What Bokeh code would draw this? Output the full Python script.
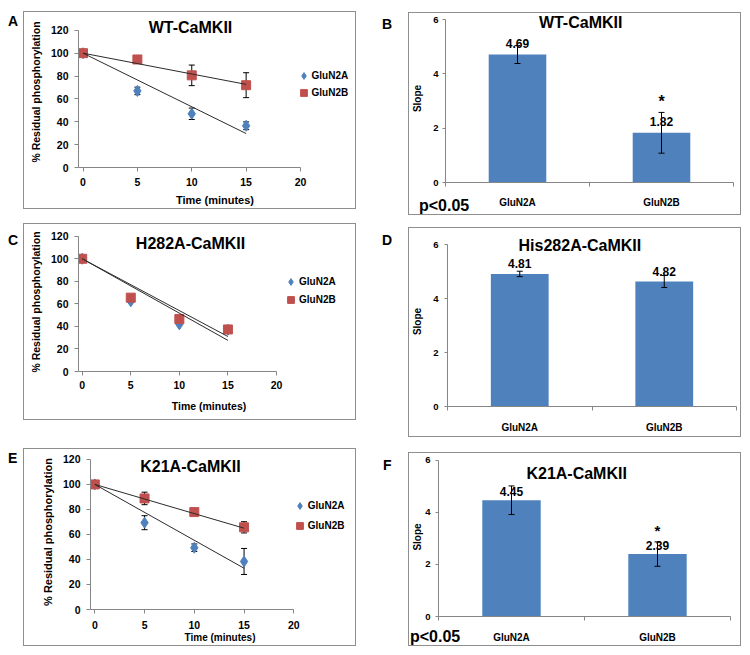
from bokeh.plotting import figure
from bokeh.models import (Range1d, FixedTicker, Whisker, TeeHead, Spacer,
                          ColumnDataSource, Label, Legend, LegendItem, Div)
from bokeh.layouts import row, column
from bokeh.embed import file_html
from bokeh.resources import INLINE
from bokeh.core.properties import value

FONT = "Liberation Sans"
BLUE = "#4F81BD"
RED = "#C0504D"
AXIS = "#868686"
BOX = "#8E8E8E"
FIT = "#2B2B2B"

# ---------------- data ----------------
series = ["GluN2A", "GluN2B"]
times = [0, 5, 10, 15]
fit_times = [0, 15]
time_ticks = [0, 5, 10, 15, 20]
pct_ticks = [0, 20, 40, 60, 80, 100, 120]
slope_ticks = [0, 2, 4, 6]

# A  WT-CaMKII
wt_2a = [100, 67, 47, 36.5]
wt_2a_err = [0, 3.3, 5, 3.4]
wt_2b = [100, 94.5, 80.6, 72]
wt_2b_err = [0, 2.5, 9, 10.9]
wt_fit_2a = [100, 29.7]
wt_fit_2b = [100, 72.7]

# C  H282A-CaMKII
h_2a = [100, 62.2, 41.8, 37]
h_2b = [100, 65.5, 46.5, 37.3]
h_fit_2a = [100, 27.6]
h_fit_2b = [100, 31.0]

# E  K21A-CaMKII
k_2a = [100, 69.4, 49.4, 38.4]
k_2a_err = [0, 5.6, 3, 10.4]
k_2b = [100, 88.8, 77.9, 65.7]
k_2b_err = [0, 5, 1.5, 4.5]
k_fit_2a = [100, 33]
k_fit_2b = [100, 65]

# B  WT slopes
wt_slope = [4.71, 1.83]
wt_slope_err = [0.33, 0.75]
wt_slope_lbl = ["4.69", "1.82"]
wt_sig = ["", "*"]

# D  His282A slopes
h_slope = [4.91, 4.63]
h_slope_err = [0.1, 0.22]
h_slope_lbl = ["4.81", "4.82"]
h_sig = ["", ""]

# F  K21A slopes
k_slope = [4.47, 2.40]
k_slope_err = [0.55, 0.47]
k_slope_lbl = ["4.45", "2.39"]
k_sig = ["", "*"]


def style_axis(ax, tick_size, label_size, tick_out, lab_standoff, axlab_standoff):
    ax.axis_line_color = AXIS
    ax.major_tick_line_color = AXIS
    ax.major_tick_out = tick_out
    ax.major_tick_in = 0
    ax.minor_tick_line_color = None
    ax.major_label_text_font = FONT
    ax.major_label_text_font_style = "bold"
    ax.major_label_text_font_size = tick_size
    ax.major_label_text_color = "black"
    ax.major_label_standoff = lab_standoff
    ax.axis_label_text_font = FONT
    ax.axis_label_text_font_style = "bold"
    ax.axis_label_text_font_size = label_size
    ax.axis_label_text_color = "black"
    ax.axis_label_standoff = axlab_standoff


def ranges(g, xv0, xv1, yv1):
    """Frame geometry (canvas px) -> data ranges so value xv0 sits at px x0, etc."""
    sx = (g["x1"] - g["x0"]) / (xv1 - xv0)
    sy = (g["B"] - g["y1"]) / yv1
    xr = Range1d(xv0 + (g["L"] - g["x0"]) / sx, xv0 + (g["R"] - g["x0"]) / sx)
    yr = Range1d(0, (g["B"] - g["T"]) / sy)
    return xr, yr, sx, sy


def base_fig(g, xr, yr):
    p = figure(width=g["w"], height=g["h"], x_range=xr, y_range=yr,
               min_border_left=g["L"], min_border_right=g["w"] - g["R"],
               min_border_top=g["T"], min_border_bottom=g["h"] - g["B"],
               output_backend="svg", toolbar_location=None, title=None, margin=0,
               styles={"outline": f"1px solid {BOX}"})
    p.outline_line_color = None
    p.grid.visible = False
    return p


def line_panel(title, y2a, e2a, y2b, e2b, fit2a, fit2b, g):
    xr, yr, sx, sy = ranges(g, time_ticks[0], time_ticks[-1], pct_ticks[-1])
    p = base_fig(g, xr, yr)
    xa = p.xaxis[0]
    ya = p.yaxis[0]
    style_axis(xa, "10.5px", g["xlab"], 4, g["xls"], g["xas"])
    style_axis(ya, "10.5px", g["ylab"], 4, 6, 6)
    xa.ticker = FixedTicker(ticks=time_ticks)
    ya.ticker = FixedTicker(ticks=pct_ticks)
    xa.bounds = (xr.start, time_ticks[-1])
    ya.bounds = (0, pct_ticks[-1])
    xa.axis_label = "Time (minutes)"
    ya.axis_label = "% Residual phosphorylation"

    for ys, es in ((y2a, e2a), (y2b, e2b)):
        if es is None:
            continue
        t = [tt for tt, e in zip(times, es) if e > 0]
        lo = [y - e for y, e in zip(ys, es) if e > 0]
        hi = [y + e for y, e in zip(ys, es) if e > 0]
        src = ColumnDataSource(dict(t=t, lo=lo, hi=hi))
        p.add_layout(Whisker(source=src, base="t", lower="lo", upper="hi",
                             line_color="black", line_width=1,
                             lower_head=TeeHead(size=6, line_color="black", line_width=1),
                             upper_head=TeeHead(size=6, line_color="black", line_width=1)))

    r2a = p.scatter(times, y2a, marker="diamond", size=11, fill_color=BLUE, line_color=BLUE)
    r2b = p.scatter(times, y2b, marker="square", size=9, fill_color=RED, line_color=RED)
    p.line(fit_times, fit2a, line_color=FIT, line_width=1)
    p.line(fit_times, fit2b, line_color=FIT, line_width=1)

    tx = xr.start + (g["title"][0] - g["L"]) / sx
    ty = (g["B"] - g["title"][1]) / sy
    p.add_layout(Label(x=tx, y=ty, text=title, text_align="center",
                       text_baseline="middle", text_font=FONT, text_font_size="16px",
                       text_font_style="bold", text_color="black"))
    gl, gb = g["leg"]
    leg = Legend(items=[LegendItem(label=series[0], renderers=[r2a]),
                        LegendItem(label=series[1], renderers=[r2b])],
                 location=(gl - g["L"], g["B"] - gb), glyph_width=17, glyph_height=17,
                 label_height=17, label_standoff=g["lstand"], spacing=g["lspace"],
                 padding=0, margin=0, border_line_color=None, background_fill_alpha=0,
                 label_text_font=FONT, label_text_font_style="bold",
                 label_text_font_size="10px", label_text_color="black")
    p.add_layout(leg)
    return p


def bar_panel(title, vals, errs, labels, sig, g):
    n = len(series)
    xpos = [i + 0.5 for i in range(n)]          # centre of each category slot
    xr, yr, sx, sy = ranges(g, 0, n, slope_ticks[-1])
    p = base_fig(g, xr, yr)
    xa = p.xaxis[0]
    style_axis(xa, "10px", "10px", 0, g["xls"], 0)
    xa.ticker = FixedTicker(ticks=xpos, minor_ticks=list(range(n + 1)))
    xa.major_label_overrides = {x: s for x, s in zip(xpos, series)}
    xa.minor_tick_line_color = AXIS
    xa.minor_tick_out = 4
    xa.minor_tick_in = 0
    ya = p.yaxis[0]
    style_axis(ya, "9.5px", "10px", 3, g["yls"], g["yas"])
    ya.ticker = FixedTicker(ticks=slope_ticks)
    ya.bounds = (0, slope_ticks[-1])
    ya.axis_label = "Slope"

    p.vbar(x=xpos, top=vals, width=0.4, fill_color=BLUE, line_color=None)
    src = ColumnDataSource(dict(x=xpos, lo=[v - e for v, e in zip(vals, errs)],
                                hi=[v + e for v, e in zip(vals, errs)]))
    p.add_layout(Whisker(source=src, base="x", lower="lo", upper="hi",
                         line_color="black", line_width=1, level="overlay",
                         lower_head=TeeHead(size=6, line_color="black", line_width=1),
                         upper_head=TeeHead(size=6, line_color="black", line_width=1)))
    p.text(x=xpos, y=vals, text=labels, text_align="center", text_baseline="middle",
           y_offset=g["voff"], text_font=value(FONT), text_font_style="bold",
           text_font_size="12px", text_color="black")
    sxs = [x for x, m in zip(xpos, sig) if m]
    sys_ = [v + e for v, e, m in zip(vals, errs, sig) if m]
    st = [m for m in sig if m]
    if sxs:
        p.text(x=sxs, y=sys_, text=st, text_align="center", text_baseline="middle",
               y_offset=-11, text_font=value(FONT), text_font_style="bold",
               text_font_size=g["star"], text_color="black")
    tx = (g["title"][0] - g["L"]) / sx
    ty = (g["B"] - g["title"][1]) / sy
    p.add_layout(Label(x=tx, y=ty, text=title,
                       text_align="center", text_baseline="middle", text_font=FONT,
                       text_font_size="16px", text_font_style="bold", text_color="black"))
    return p


def letter(t, width, height, top, left):
    html = (f'<div style="padding:{top}px 0 0 {left}px;font-family:\'{FONT}\';'
            f'font-size:14px;font-weight:bold;line-height:16px;color:black">{t}</div>')
    return Div(text=html, width=width, height=height, margin=0)


def pnote(left, height):
    html = (f'<div style="padding:0 0 0 {left}px;font-family:\'{FONT}\';'
            f'font-size:16px;font-weight:bold;line-height:17px;color:black">p&lt;0.05</div>')
    return Div(text=html, width=140, height=height, margin=(-height, 0, 0, 0))


def gap(h=0, w=0):
    return Spacer(height=h, width=w, margin=0)


# frame geometry in canvas pixels (L,R,T,B = frame edges; x0/x1 = px of first/last
# x tick value, y1 = px of top y tick value; B = px of y = 0)
gA = dict(w=331, h=196, L=54, R=327, T=4, B=157, x0=58.5, x1=276, y1=18,
          xlab="11px", ylab="10.5px", xls=6, xas=5,
          title=(166, 15), leg=(270.5, 91.2), lstand=-3, lspace=0)
gC = dict(w=331, h=195, L=54, R=315, T=8, B=147, x0=57.7, x1=252, y1=11.7,
          xlab="10.5px", ylab="10.5px", xls=5, xas=8,
          title=(166, 19.3), leg=(258, 84.2), lstand=-2, lspace=1)
gE = dict(w=331, h=196, L=66, R=325, T=5, B=163, x0=70.3, x1=269.3, y1=10,
          xlab="10px", ylab="11px", xls=7, xas=0,
          title=(166, 17), leg=(266.8, 87.5), lstand=-3, lspace=3)

gB = dict(w=331, h=201, L=31, R=324, T=1, B=169, x0=31, x1=324, y1=6,
          xls=10, yls=4, yas=7, voff=-11, star="16px", title=(168.5, 8.7))
gD = dict(w=331, h=208, L=33, R=327, T=8, B=178, x0=33, x1=327, y1=16,
          xls=11, yls=6, yas=7, voff=-10, star="16px", title=(167.7, 17))
gF = dict(w=331, h=192, L=23, R=321, T=4, B=165, x0=23, x1=321, y1=7,
          xls=11, yls=5, yas=-1, voff=-9, star="15px", title=(164, 20.3))

pA = line_panel("WT-CaMKII", wt_2a, wt_2a_err, wt_2b, wt_2b_err, wt_fit_2a, wt_fit_2b, gA)
pC = line_panel("H282A-CaMKII", h_2a, None, h_2b, None, h_fit_2a, h_fit_2b, gC)
pE = line_panel("K21A-CaMKII", k_2a, k_2a_err, k_2b, k_2b_err, k_fit_2a, k_fit_2b, gE)
pB = bar_panel("WT-CaMKII", wt_slope, wt_slope_err, wt_slope_lbl, wt_sig, gB)
pD = bar_panel("His282A-CaMKII", h_slope, h_slope_err, h_slope_lbl, h_sig, gD)
pF = bar_panel("K21A-CaMKII", k_slope, k_slope_err, k_slope_lbl, k_sig, gF)

# page layout: left column starts at x = 8, right column at x = 355
left = column(gap(h=12),
              row(letter("A", 16, 196, 1, 0), pA, margin=0),
              gap(h=16),
              row(letter("C", 16, 195, 8, 0), pC, margin=0),
              gap(h=30),
              row(letter("E", 16, 196, 1, 0), pE, margin=0), margin=0)
right = column(gap(h=13),
               row(letter("B", 54, 201, 3, 27), pB, margin=0),
               pnote(64, 17),
               gap(h=14),
               row(letter("D", 54, 208, 4, 27), pD, margin=0),
               gap(h=17),
               row(letter("F", 54, 192, 4, 28), pF, margin=0),
               pnote(55, 17), margin=0)
layout = row(gap(w=8), left, right, margin=0)

open("out.html", "w").write(file_html(layout, INLINE))
